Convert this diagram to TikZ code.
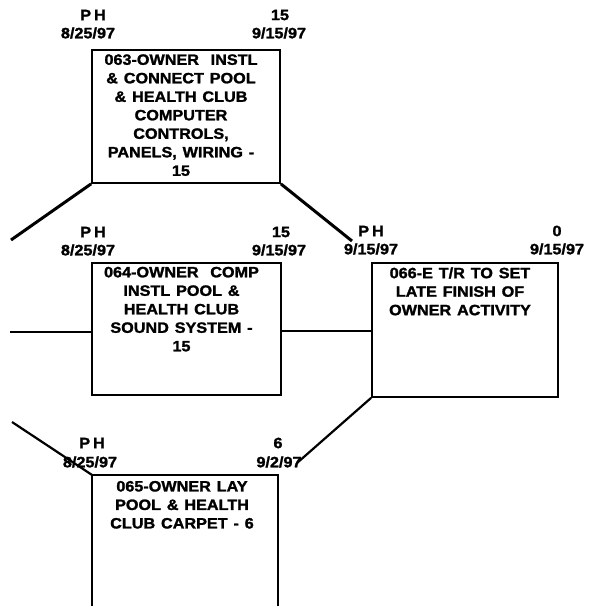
\documentclass[tikz,border=0pt]{standalone}
\usepackage{fontspec}
\newfontfamily\dfont{Liberation Sans}[FakeStretch=1.08,FakeBold=1.6,WordSpace=1.3]
\begin{document}
\begin{tikzpicture}[x=1pt,y=-1pt,
  every node/.style={font=\dfont\bfseries\fontsize{15}{18.5}\selectfont,inner sep=0pt},
  actbox/.style={draw,line width=1.7pt,minimum width=#1,inner sep=0pt},
  boxtext/.style={anchor=north,align=center},
  lbl/.style={anchor=center},
  heavy/.style={line width=3pt},
  mid/.style={line width=2.2pt},
  thin/.style={line width=1.8pt}]
\useasboundingbox (0,0) rectangle (594,606);
\clip (0,0) rectangle (594,606);
% boxes
\node[actbox=188pt,minimum height=133pt] (b063) at (186,116.5) {};
\node[actbox=189pt,minimum height=132pt] (b064) at (186.5,329) {};
\node[actbox=186pt,minimum height=134pt] (b066) at (465,330) {};
\node[minimum width=186pt,minimum height=145pt] (b065) at (185,547.5) {};
\draw[line width=1.7pt] (b065.south west) |- (b065.north east) -- (b065.south east);
% box texts
\node[boxtext] (t063) at ([xshift=-5pt,yshift=-5pt]b063.north) {063-OWNER\ \ INSTL\\\& CONNECT POOL\\\& HEALTH CLUB\\COMPUTER\\CONTROLS,\\PANELS, WIRING -\\15};
\node[boxtext] (t064) at ([xshift=-5pt,yshift=-4.5pt]b064.north) {064-OWNER\ \ COMP\\INSTL POOL \&\\HEALTH CLUB\\SOUND SYSTEM -\\15};
\node[boxtext] (t066) at ([xshift=-5pt,yshift=-5pt]b066.north) {066-E T/R TO SET\\LATE FINISH OF\\OWNER ACTIVITY};
\node[boxtext] (t065) at ([xshift=-3pt,yshift=-6pt]b065.north) {065-OWNER LAY\\POOL \& HEALTH\\CLUB CARPET - 6};
% corner labels
\node[lbl] (p063) at (93,15) {P\kern3pt H};
\node[lbl] (d063) at (88,33) {8/25/97};
\node[lbl] (n063) at (280,15) {15};
\node[lbl] (e063) at (279,33) {9/15/97};
\node[lbl] (p064) at (93,232) {P\kern3pt H};
\node[lbl] (d064) at (88,250) {8/25/97};
\node[lbl] (n064) at (281,232) {15};
\node[lbl] (e064) at (279,250) {9/15/97};
\node[lbl] (p066) at (371,231) {P\kern3pt H};
\node[lbl] (d066) at (371,249) {9/15/97};
\node[lbl] (n066) at (557,231) {0};
\node[lbl] (e066) at (557,249) {9/15/97};
\node[lbl] (p065) at (92,443) {P\kern3pt H};
\node[lbl] (d065) at (90,462) {8/25/97};
\node[lbl] (n065) at (278,443) {6};
\node[lbl] (e065) at (279,462) {9/2/97};
% free ends
\coordinate (c1) at (11,240);
\coordinate (c2) at (352,241);
\coordinate (c3) at (10,332);
\coordinate (c4) at (297,463);
\coordinate (c5) at (12,422);
% connectors
\draw[heavy] (b063.south west) -- (c1);
\draw[heavy] (b063.south east) -- (c2);
\draw[thin] (c3) -- (c3 -| b064.west);
\draw[thin] (b064.east |- 0,331) -- (b066.west |- 0,331);
\draw[mid] (b066.south west) -- (c4);
\draw[mid] (c5) -- (b065.north west);
\end{tikzpicture}
\end{document}
